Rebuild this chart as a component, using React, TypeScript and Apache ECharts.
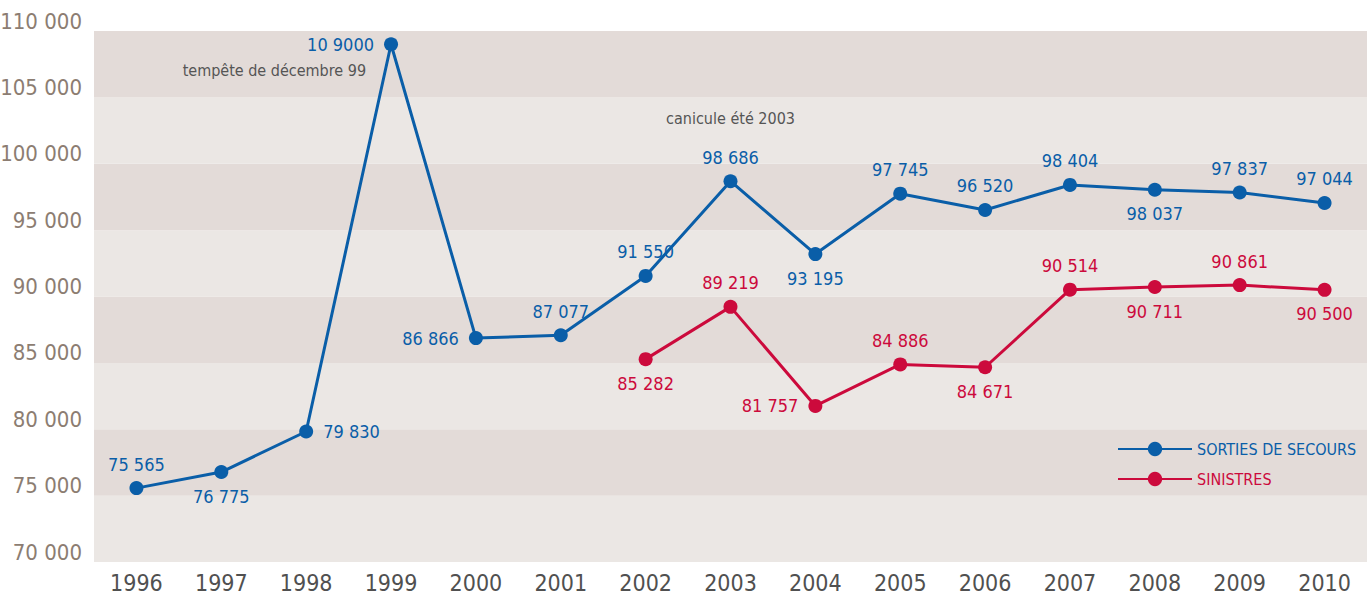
import React, { useEffect, useRef } from "react";
import * as echarts from "echarts";

const years = ["1996", "1997", "1998", "1999", "2000", "2001", "2002", "2003", "2004", "2005", "2006", "2007", "2008", "2009", "2010"];
const sorties = [75565, 76775, 79830, 109000, 86866, 87077, 91550, 98686, 93195, 97745, 96520, 98404, 98037, 97837, 97044];
const sortiesLabels = ["75 565", "76 775", "79 830", "10 9000", "86 866", "87 077", "91 550", "98 686", "93 195", "97 745", "96 520", "98 404", "98 037", "97 837", "97 044"];
const sortiesPos = ["top", "bottom", "right", "left", "left", "top", "top", "top", "bottom", "top", "top", "top", "bottom", "top", "top"];
const sinistres = [null, null, null, null, null, null, 85282, 89219, 81757, 84886, 84671, 90514, 90711, 90861, 90500];
const sinistresLabels = ["", "", "", "", "", "", "85 282", "89 219", "81 757", "84 886", "84 671", "90 514", "90 711", "90 861", "90 500"];
const sinistresPos = ["", "", "", "", "", "", "bottom", "top", "left", "top", "bottom", "top", "bottom", "top", "bottom"];
const yTicks = ["70 000", "75 000", "80 000", "85 000", "90 000", "95 000", "100 000", "105 000", "110 000"];
const annotations = [
  { year: "1999", value: 109000, text: "tempête de décembre 99" },
  { year: "2003", value: 98686, text: "canicule été 2003" },
];

const FONT = "'DejaVu Sans Condensed', 'Liberation Sans Narrow', sans-serif";
const BLUE = "#0a5ea8";
const RED = "#cc0a3c";

function buildData(values: (number | null)[], labels: string[], pos: string[], color: string) {
  return values.map((v, i) => {
    if (v === null) return null;
    const p = pos[i];
    const dist = p === "left" || p === "right" ? 10 : 8;
    return {
      value: v,
      label: {
        show: true,
        position: p,
        distance: dist,
        formatter: labels[i],
        color,
        fontFamily: FONT,
        fontSize: 18,
      },
    };
  });
}

export default function App() {
  const ref = useRef<HTMLDivElement>(null);
  useEffect(() => {
    if (!ref.current) return;
    const chart = echarts.init(ref.current, undefined, { renderer: "svg" });
    chart.setOption({
      animation: false,
      backgroundColor: "#ffffff",
      grid: { left: 94, right: 0, top: 31, bottom: 36, outerBoundsMode: "none", containLabel: false },
      legend: {
        orient: "vertical",
        left: 1112,
        top: 436,
        itemWidth: 74,
        itemHeight: 18,
        itemGap: 14,
        textStyle: { fontFamily: FONT, fontSize: 16 },
        data: [
          { name: "SORTIES DE SECOURS", textStyle: { color: BLUE } },
          { name: "SINISTRES", textStyle: { color: RED } },
        ],
      },
      xAxis: {
        type: "category",
        data: years,
        boundaryGap: true,
        axisLine: { show: false },
        axisTick: { show: false },
        axisLabel: { color: "#505050", fontFamily: FONT, fontSize: 23, margin: 9 },
      },
      yAxis: {
        type: "value",
        min: 70000,
        max: 110000,
        interval: 5000,
        axisLine: { show: false },
        axisTick: { show: false },
        splitLine: { show: false },
        splitArea: { show: true, areaStyle: { color: ["#ebe7e4", "#e3dbd8"] } },
        axisLabel: {
          color: "#8c7d72",
          fontFamily: FONT,
          fontSize: 22,
          margin: 12,
          verticalAlign: "bottom",
          lineHeight: 20,
          formatter: (v: number) => yTicks[Math.round((v - 70000) / 5000)],
        },
      },
      series: [
        {
          name: "SORTIES DE SECOURS",
          type: "line",
          data: buildData(sorties, sortiesLabels, sortiesPos, BLUE),
          symbol: "circle",
          symbolSize: 14,
          itemStyle: { color: BLUE },
          lineStyle: { color: BLUE, width: 3 },
          markPoint: {
            symbol: "circle",
            symbolSize: 0,
            data: [
              {
                coord: [annotations[0].year, annotations[0].value],
                label: {
                  show: true,
                  formatter: annotations[0].text,
                  position: "left",
                  distance: 25,
                  offset: [0, 26],
                  color: "#555555",
                  fontFamily: FONT,
                  fontSize: 16,
                },
              },
              {
                coord: [annotations[1].year, annotations[1].value],
                label: {
                  show: true,
                  formatter: annotations[1].text,
                  position: "top",
                  distance: 55,
                  color: "#555555",
                  fontFamily: FONT,
                  fontSize: 16,
                },
              },
            ],
          },
        },
        {
          name: "SINISTRES",
          type: "line",
          data: buildData(sinistres, sinistresLabels, sinistresPos, RED),
          symbol: "circle",
          symbolSize: 14,
          itemStyle: { color: RED },
          lineStyle: { color: RED, width: 3 },
        },
      ],
    });
    return () => chart.dispose();
  }, []);
  return <div ref={ref} style={{ position: "absolute", left: 0, top: 0, width: 1367, height: 598 }} />;
}
